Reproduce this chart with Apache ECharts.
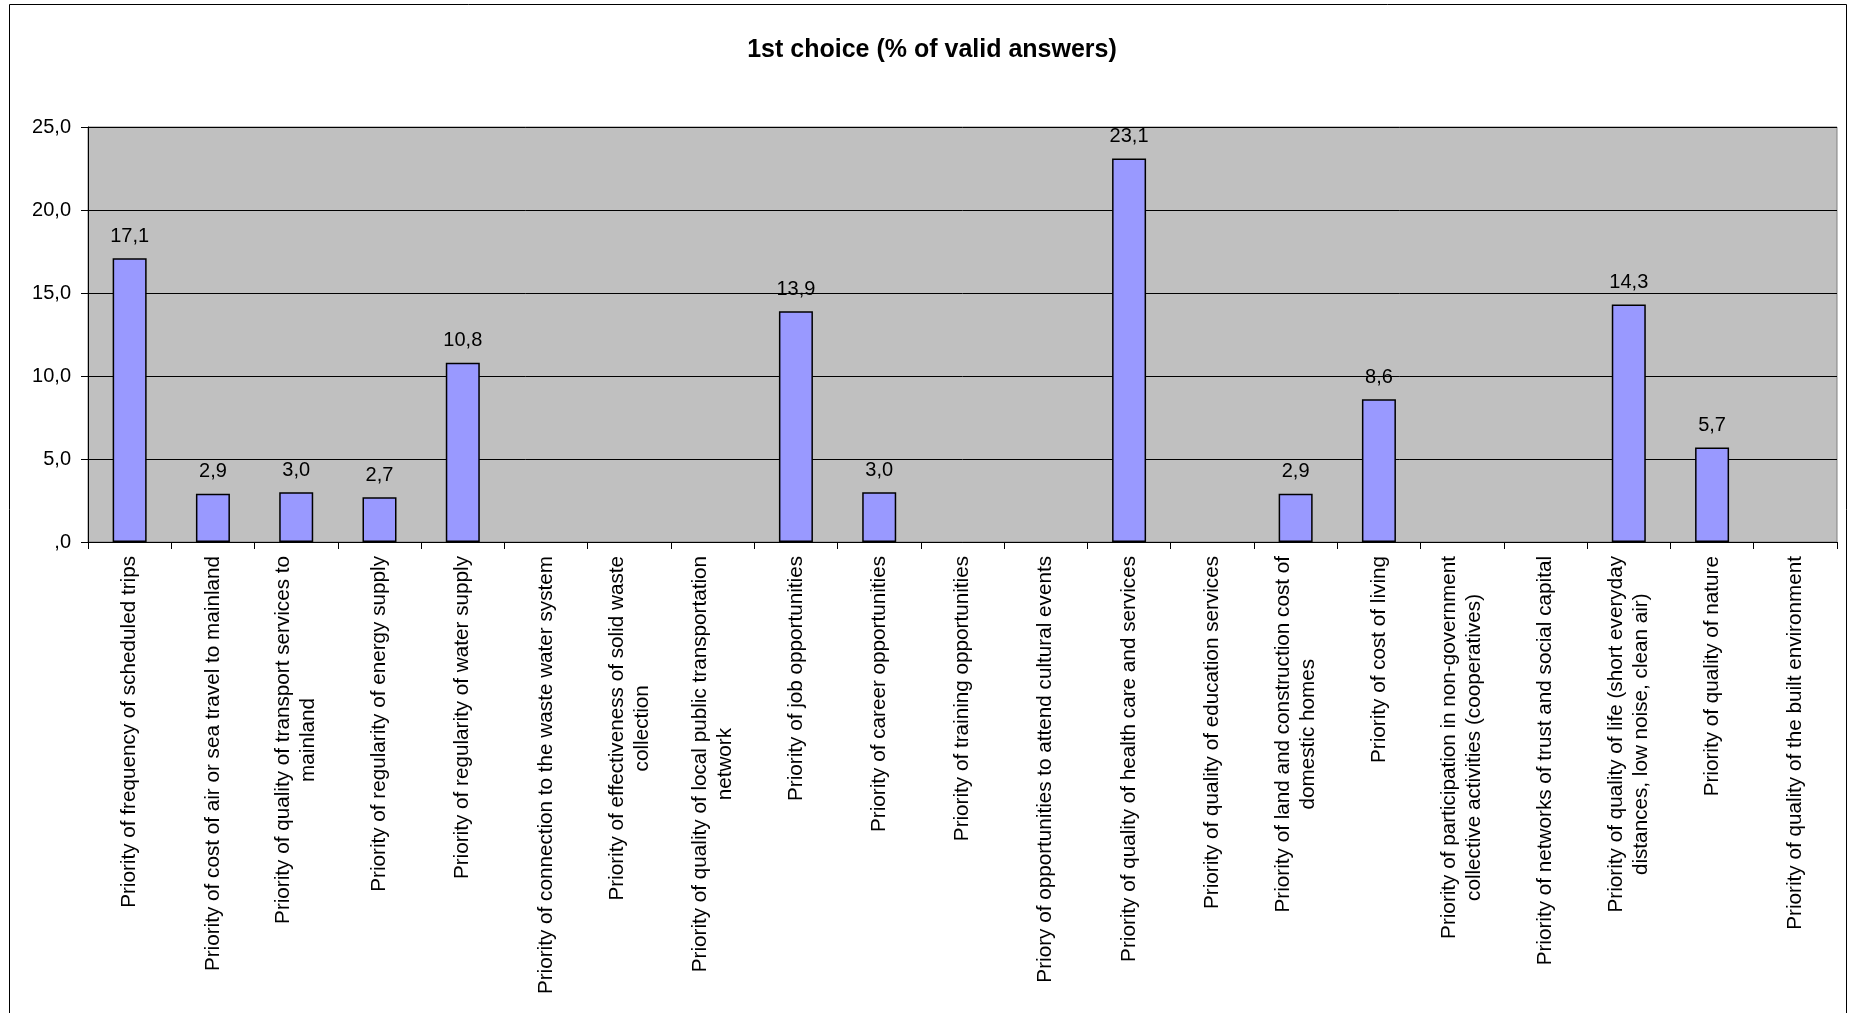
<!DOCTYPE html>
<html>
<head>
<meta charset="utf-8">
<script src="https://cdn.jsdelivr.net/npm/echarts@6/dist/echarts.min.js"></script>
<style>
html,body{margin:0;padding:0;background:#fff;}
#chart{width:1849px;height:1013px;}
</style>
</head>
<body>
<div id="chart"></div>
<script>
const titleText = '1st choice (% of valid answers)';
const categories = [
  'Priority of frequency of scheduled trips',
  'Priority of cost of air or sea travel to mainland',
  'Priority of quality of transport services to\nmainland',
  'Priority of regularity of energy supply',
  'Priority of regularity of water supply',
  'Priority of connection to the waste water system',
  'Priority of effectiveness of solid waste\ncollection',
  'Priority of quality of local public transportation\nnetwork',
  'Priority of job opportunities',
  'Priority of career opportunities',
  'Priority of training opportunities',
  'Priory of opportunities to attend cultural events',
  'Priority of quality of health care and services',
  'Priority of quality of education services',
  'Priority of land and construction cost of\ndomestic homes',
  'Priority of cost of living',
  'Priority of participation in non-government\ncollective activities (cooperatives)',
  'Priority of networks of trust and social capital',
  'Priority of quality of life (short everyday\ndistances, low noise, clean air)',
  'Priority of quality of nature',
  'Priority of quality of the built environment'
];
const values = [17.1, 2.9, 3.0, 2.7, 10.8, null, null, null, 13.9, 3.0, null, null, 23.1, null, 2.9, 8.6, null, null, 14.3, 5.7, null];
const yMin = 0, yMax = 25, yStep = 5;

function fmt(v) {
  if (v === 0) return ',0';
  return v.toFixed(1).replace('.', ',');
}

const chart = echarts.init(document.getElementById('chart'), null, {renderer: 'canvas'});
const FONT = '"Liberation Sans", Arial, sans-serif';
chart.setOption({
  animation: false,
  backgroundColor: '#ffffff',
  textStyle: {fontFamily: FONT},
  title: {
    text: titleText,
    left: 927,
    textAlign: 'center',
    top: 33,
    textStyle: {fontFamily: FONT, fontSize: 25, fontWeight: 'bold', color: '#000'}
  },
  graphic: [{
    type: 'rect',
    shape: {x: 9.5, y: 4.5, width: 1837, height: 1030},
    style: {fill: 'none', stroke: '#000', lineWidth: 1},
    silent: true,
    z: -10
  }],
  grid: {
    left: 88, right: 12, top: 127, bottom: 471,
    show: true,
    backgroundColor: '#C0C0C0',
    borderColor: '#808080',
    borderWidth: 1,
    containLabel: false,
    outerBoundsMode: 'none'
  },
  xAxis: {
    type: 'category',
    data: categories,
    boundaryGap: true,
    axisLine: {show: true, lineStyle: {color: '#000', width: 1}},
    axisTick: {show: true, interval: 0, alignWithLabel: false, length: 7, lineStyle: {color: '#000'}},
    axisLabel: {
      interval: 0,
      rotate: 90,
      margin: 14,
      color: '#000',
      fontSize: 20.7,
      fontFamily: FONT,
      lineHeight: 25,
      formatter: function (v) {
        return v.split('\n').map(function (l) { return '{c|' + l + '}'; }).join('\n');
      },
      rich: {c: {align: 'center', fontSize: 20.7, fontFamily: FONT, color: '#000', lineHeight: 25}}
    },
    splitLine: {show: false}
  },
  yAxis: {
    type: 'value',
    min: yMin, max: yMax, interval: yStep,
    axisLine: {show: true, lineStyle: {color: '#000', width: 1}},
    axisTick: {show: true, length: 7, lineStyle: {color: '#000'}},
    axisLabel: {
      margin: 17,
      color: '#000',
      fontSize: 20,
      fontFamily: FONT,
      formatter: fmt
    },
    splitLine: {show: true, lineStyle: {color: '#000', width: 1}}
  },
  series: [{
    type: 'bar',
    data: values,
    barWidth: 34,
    itemStyle: {color: '#9999FF', borderColor: '#000', borderWidth: 1.5},
    label: {
      show: true,
      position: 'top',
      distance: 12,
      color: '#000',
      fontSize: 20,
      fontFamily: FONT,
      formatter: function (p) { return p.value == null ? '' : fmt(p.value); }
    }
  }]
});
</script>
</body>
</html>
